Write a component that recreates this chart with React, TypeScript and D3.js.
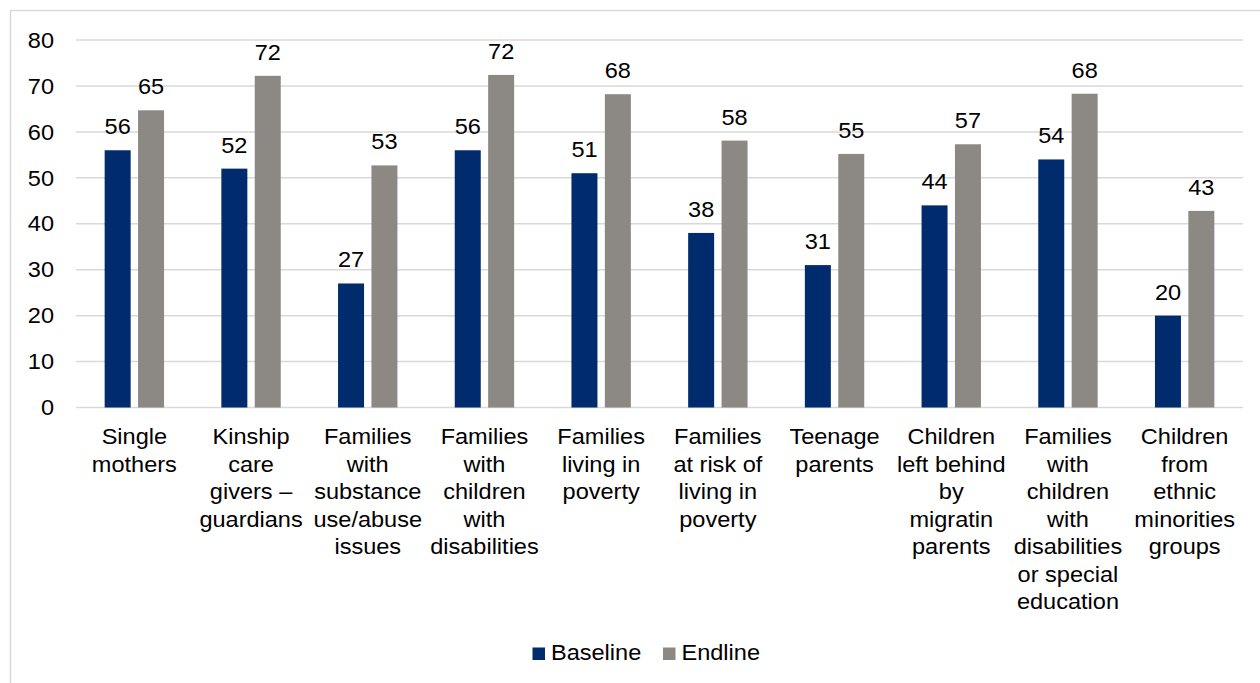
import React from "react";
import * as d3 from "d3";

// Vulnerable groups reached, baseline vs endline (%)
const categories: string[] = [
  "Single\nmothers",
  "Kinship\ncare\ngivers –\nguardians",
  "Families\nwith\nsubstance\nuse/abuse\nissues",
  "Families\nwith\nchildren\nwith\ndisabilities",
  "Families\nliving in\npoverty",
  "Families\nat risk of\nliving in\npoverty",
  "Teenage\nparents",
  "Children\nleft behind\nby\nmigratin\nparents",
  "Families\nwith\nchildren\nwith\ndisabilities\nor special\neducation",
  "Children\nfrom\nethnic\nminorities\ngroups",
];
const baseline: number[] = [56, 52, 27, 56, 51, 38, 31, 44, 54, 20];
const endline: number[] = [64.7, 72.2, 52.7, 72.4, 68.2, 58.1, 55.2, 57.3, 68.3, 42.8];
const seriesNames: string[] = ["Baseline", "Endline"];
const seriesColors: string[] = ["#002B6C", "#8C8985"];
const yTicks: number[] = [0, 10, 20, 30, 40, 50, 60, 70, 80];

const W = 1260;
const H = 683;
const FONT = "'Liberation Sans', Arial, sans-serif";
const FS = 22;
// text in this chart is set slightly wide
const SX = 1.07;

function WideText(props: {
  x: number;
  y: number;
  anchor?: "start" | "middle" | "end";
  dy?: string;
  children: React.ReactNode;
}) {
  const { x, y, anchor = "start", dy, children } = props;
  return (
    <g transform={`translate(${x},${y}) scale(${SX},1)`}>
      <text x={0} y={0} dy={dy} textAnchor={anchor} fontSize={FS} fill="#000">
        {children}
      </text>
    </g>
  );
}

export default function App() {
  const x0 = d3.scaleBand<string>().domain(categories).range([76, 1243]).paddingInner(0).paddingOuter(0);
  const x1 = d3
    .scaleBand<string>()
    .domain(seriesNames)
    .range([0, x0.bandwidth()])
    .paddingInner(0.2216)
    .paddingOuter(0.858);
  const y = d3.scaleLinear().domain([0, 80]).range([407.5, 40]);
  const fmt = d3.format(".0f");
  const values = [baseline, endline];

  return (
    <svg
      width={W}
      height={H}
      style={{ position: "absolute", left: 0, top: 0, display: "block", background: "#fff" }}
      fontFamily={FONT}
    >
      <rect x={10.5} y={10.5} width={1400} height={800} fill="#fff" stroke="#D9D9D9" strokeWidth={1.5} />

      {/* gridlines and y labels */}
      {yTicks.map((t) => (
        <g key={t}>
          <line x1={76} x2={1243} y1={y(t)} y2={y(t)} stroke="#D9D9D9" strokeWidth={1.5} />
          <WideText x={54} y={y(t)} dy="0.35em" anchor="end">
            {t}
          </WideText>
        </g>
      ))}

      {/* bars and value labels */}
      {categories.map((c, i) => (
        <g key={c} transform={`translate(${x0(c)},0)`}>
          {seriesNames.map((s, k) => {
            const v = values[k][i];
            const bx = x1(s)!;
            return (
              <g key={s}>
                <rect x={bx} y={y(v)} width={x1.bandwidth()} height={y(0) - y(v)} fill={seriesColors[k]} />
                <WideText x={bx + x1.bandwidth() / 2} y={y(v) - 16} anchor="middle">
                  {fmt(v)}
                </WideText>
              </g>
            );
          })}
        </g>
      ))}

      {/* category labels */}
      {categories.map((c) => (
        <g key={c}>
          {c.split("\n").map((line, j) => (
            <WideText key={j} x={x0(c)! + x0.bandwidth() / 2} y={444 + j * 27.5} anchor="middle">
              {line}
            </WideText>
          ))}
        </g>
      ))}

      {/* legend */}
      {seriesNames.map((s, k) => {
        const lx = k === 0 ? 532.5 : 663;
        return (
          <g key={s}>
            <rect x={lx} y={647.5} width={12.5} height={12.5} fill={seriesColors[k]} />
            <WideText x={lx + 18.5} y={660}>
              {s}
            </WideText>
          </g>
        );
      })}
    </svg>
  );
}
